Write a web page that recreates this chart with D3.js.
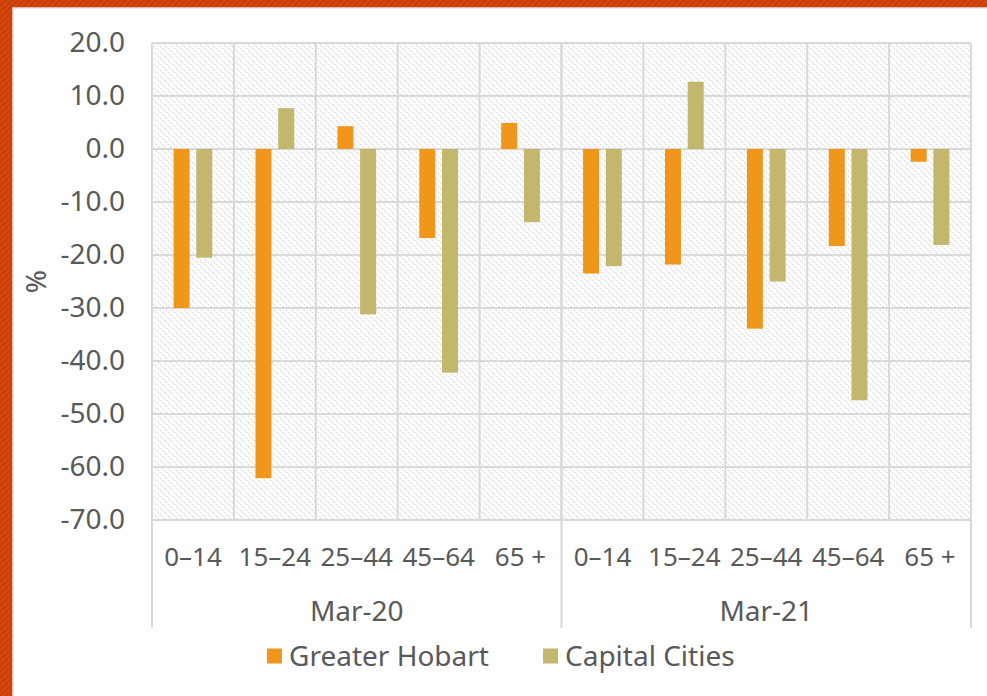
<!DOCTYPE html>
<html>
<head>
<meta charset="utf-8">
<script src="https://cdn.jsdelivr.net/npm/d3@7"></script>
<style>
  html, body { margin: 0; padding: 0; background: #fff; }
  svg text { font-family: "Noto Sans", "DejaVu Sans", sans-serif; fill: #595959; }
</style>
</head>
<body>
<div id="chart"></div>
<script>
// chart data
var periods = ["Mar-20", "Mar-21"]
var ageGroups = ["0–14", "15–24", "25–44", "45–64", "65 +"]
var seriesNames = ["Greater Hobart", "Capital Cities"]
var hobart = [-30.0, -62.1, 4.3, -16.8, 4.9, -23.5, -21.8, -33.9, -18.3, -2.4]
var capitals = [-20.5, 7.7, -31.2, -42.2, -13.8, -22.1, 12.7, -25.0, -47.4, -18.1]
var yTicks = [20, 10, 0, -10, -20, -30, -40, -50, -60, -70]
var colors = ["#F0961A", "#C2B76D"]

var width = 987, height = 696
var plot = { left: 152, right: 971, top: 43, bottom: 520 }
var axisBottom = 628
var fontSize = 28

// build rows for each bar pair
var rows = []
periods.forEach(function(p, i){
  ageGroups.forEach(function(a, j){
    var k = i * ageGroups.length + j
    rows.push({ key: p + "|" + a, period: p, age: a, values: [hobart[k], capitals[k]] })
  })
})

var svg = d3.select("#chart").append("svg")
  .attr("width", width)
  .attr("height", height)

var defs = svg.append("defs")

// orange striped frame
var frame = defs.append("pattern")
  .attr("id", "frame")
  .attr("patternUnits", "userSpaceOnUse")
  .attr("width", 6).attr("height", 6)
frame.append("rect").attr("width", 6).attr("height", 6).attr("fill", "#D3470F")
frame.append("path")
  .attr("d", "M0,6 L6,0 M-1,1 L1,-1 M5,7 L7,5")
  .attr("stroke", "#C43B09").attr("stroke-width", 1.4)

// light hatch inside the plot
var hatch = defs.append("pattern")
  .attr("id", "hatch")
  .attr("patternUnits", "userSpaceOnUse")
  .attr("width", 6).attr("height", 6)
hatch.append("rect").attr("width", 6).attr("height", 6).attr("fill", "#fff")
hatch.append("path")
  .attr("d", "M0,0 L6,6 M-1,5 L1,7 M5,-1 L7,1")
  .attr("stroke", "#dadada").attr("stroke-width", 1.3)
  .attr("stroke-dasharray", "1.6,1.2")

svg.append("rect").attr("width", width).attr("height", height).attr("fill", "url(#frame)")
svg.append("rect")
  .attr("x", 13).attr("y", 8)
  .attr("width", width).attr("height", height)
  .attr("fill", "#fff")
  .attr("stroke", "#e2e2e2").attr("stroke-width", 1.5)

// scales
var x0 = d3.scaleBand()
  .domain(rows.map(function(d){ return d.key }))
  .range([plot.left, plot.right])
  .padding(0)

var pad = 21.6
var x1 = d3.scaleBand()
  .domain([0, 1])
  .range([pad, x0.bandwidth() - pad])
  .paddingInner(0.295)

var y = d3.scaleLinear()
  .domain([-70, 20])
  .range([plot.bottom, plot.top])

svg.append("rect")
  .attr("x", plot.left).attr("y", plot.top)
  .attr("width", plot.right - plot.left).attr("height", plot.bottom - plot.top)
  .attr("fill", "url(#hatch)")

var gridColor = "#d9d9d9"

// horizontal gridlines
svg.append("g").selectAll("line")
  .data(yTicks)
  .enter()
  .append("line")
    .attr("x1", plot.left).attr("x2", plot.right)
    .attr("y1", function(d){ return y(d) }).attr("y2", function(d){ return y(d) })
    .attr("stroke", gridColor).attr("stroke-width", 2)

// vertical gridlines between categories
svg.append("g").selectAll("line")
  .data(rows.slice(1))
  .enter()
  .append("line")
    .attr("x1", function(d){ return x0(d.key) }).attr("x2", function(d){ return x0(d.key) })
    .attr("y1", plot.top).attr("y2", plot.bottom)
    .attr("stroke", gridColor).attr("stroke-width", 2)

// group dividers that drop through the axis labels
var dividers = [plot.left, x0(periods[1] + "|" + ageGroups[0]), plot.right]
svg.append("g").selectAll("line")
  .data(dividers)
  .enter()
  .append("line")
    .attr("x1", function(d){ return d }).attr("x2", function(d){ return d })
    .attr("y1", plot.top).attr("y2", axisBottom)
    .attr("stroke", gridColor).attr("stroke-width", 2)

// bars
var groups = svg.append("g").selectAll("g")
  .data(rows)
  .enter()
  .append("g")
    .attr("transform", function(d){ return "translate(" + x0(d.key) + ",0)" })

groups.selectAll("rect")
  .data(function(d){ return d.values.map(function(v, i){ return { i: i, v: v } }) })
  .enter()
  .append("rect")
    .attr("x", function(d){ return x1(d.i) })
    .attr("width", x1.bandwidth())
    .attr("y", function(d){ return y(Math.max(0, d.v)) })
    .attr("height", function(d){ return Math.abs(y(d.v) - y(0)) })
    .attr("fill", function(d){ return colors[d.i] })

// y axis labels (plain hyphen for negatives, like the original)
var yAxis = d3.axisLeft(y)
  .tickValues(yTicks)
  .tickFormat(function(d){ return d.toFixed(1) })
  .tickSize(0)
  .tickPadding(0)

var yg = svg.append("g")
  .attr("transform", "translate(125,0)")
  .call(yAxis)
yg.select(".domain").remove()
yg.selectAll("text")
  .attr("font-size", fontSize)
  .attr("fill", "#595959")
  .style("font-family", null)

svg.append("text")
  .attr("transform", "translate(36," + ((plot.top + plot.bottom) / 2) + ") rotate(-90)")
  .attr("text-anchor", "middle")
  .attr("dy", "0.35em")
  .attr("font-size", fontSize)
  .text("%")

// category labels
var xAxis = d3.axisBottom(x0)
  .tickFormat(function(d){ return d.split("|")[1] })
  .tickSize(0)
  .tickPadding(0)

var xg = svg.append("g")
  .attr("transform", "translate(0,557)")
  .call(xAxis)
xg.select(".domain").remove()
xg.selectAll("text")
  .attr("dy", "0.35em")
  .attr("font-size", 26)
  .attr("fill", "#595959")
  .style("font-family", null)

// period labels
svg.append("g").selectAll("text")
  .data(periods)
  .enter()
  .append("text")
    .attr("x", function(d, i){ return (dividers[i] + dividers[i + 1]) / 2 })
    .attr("y", 611)
    .attr("dy", "0.35em")
    .attr("text-anchor", "middle")
    .attr("font-size", fontSize)
    .text(function(d){ return d })

// legend
var legendX = [267, 543]
var legend = svg.append("g").selectAll("g")
  .data(seriesNames)
  .enter()
  .append("g")
    .attr("transform", function(d, i){ return "translate(" + legendX[i] + ",656)" })

legend.append("rect")
  .attr("x", 0).attr("y", -7.5)
  .attr("width", 15).attr("height", 15)
  .attr("fill", function(d, i){ return colors[i] })

legend.append("text")
  .attr("x", 22)
  .attr("dy", "0.35em")
  .attr("font-size", fontSize)
  .text(function(d){ return d })
</script>
</body>
</html>
